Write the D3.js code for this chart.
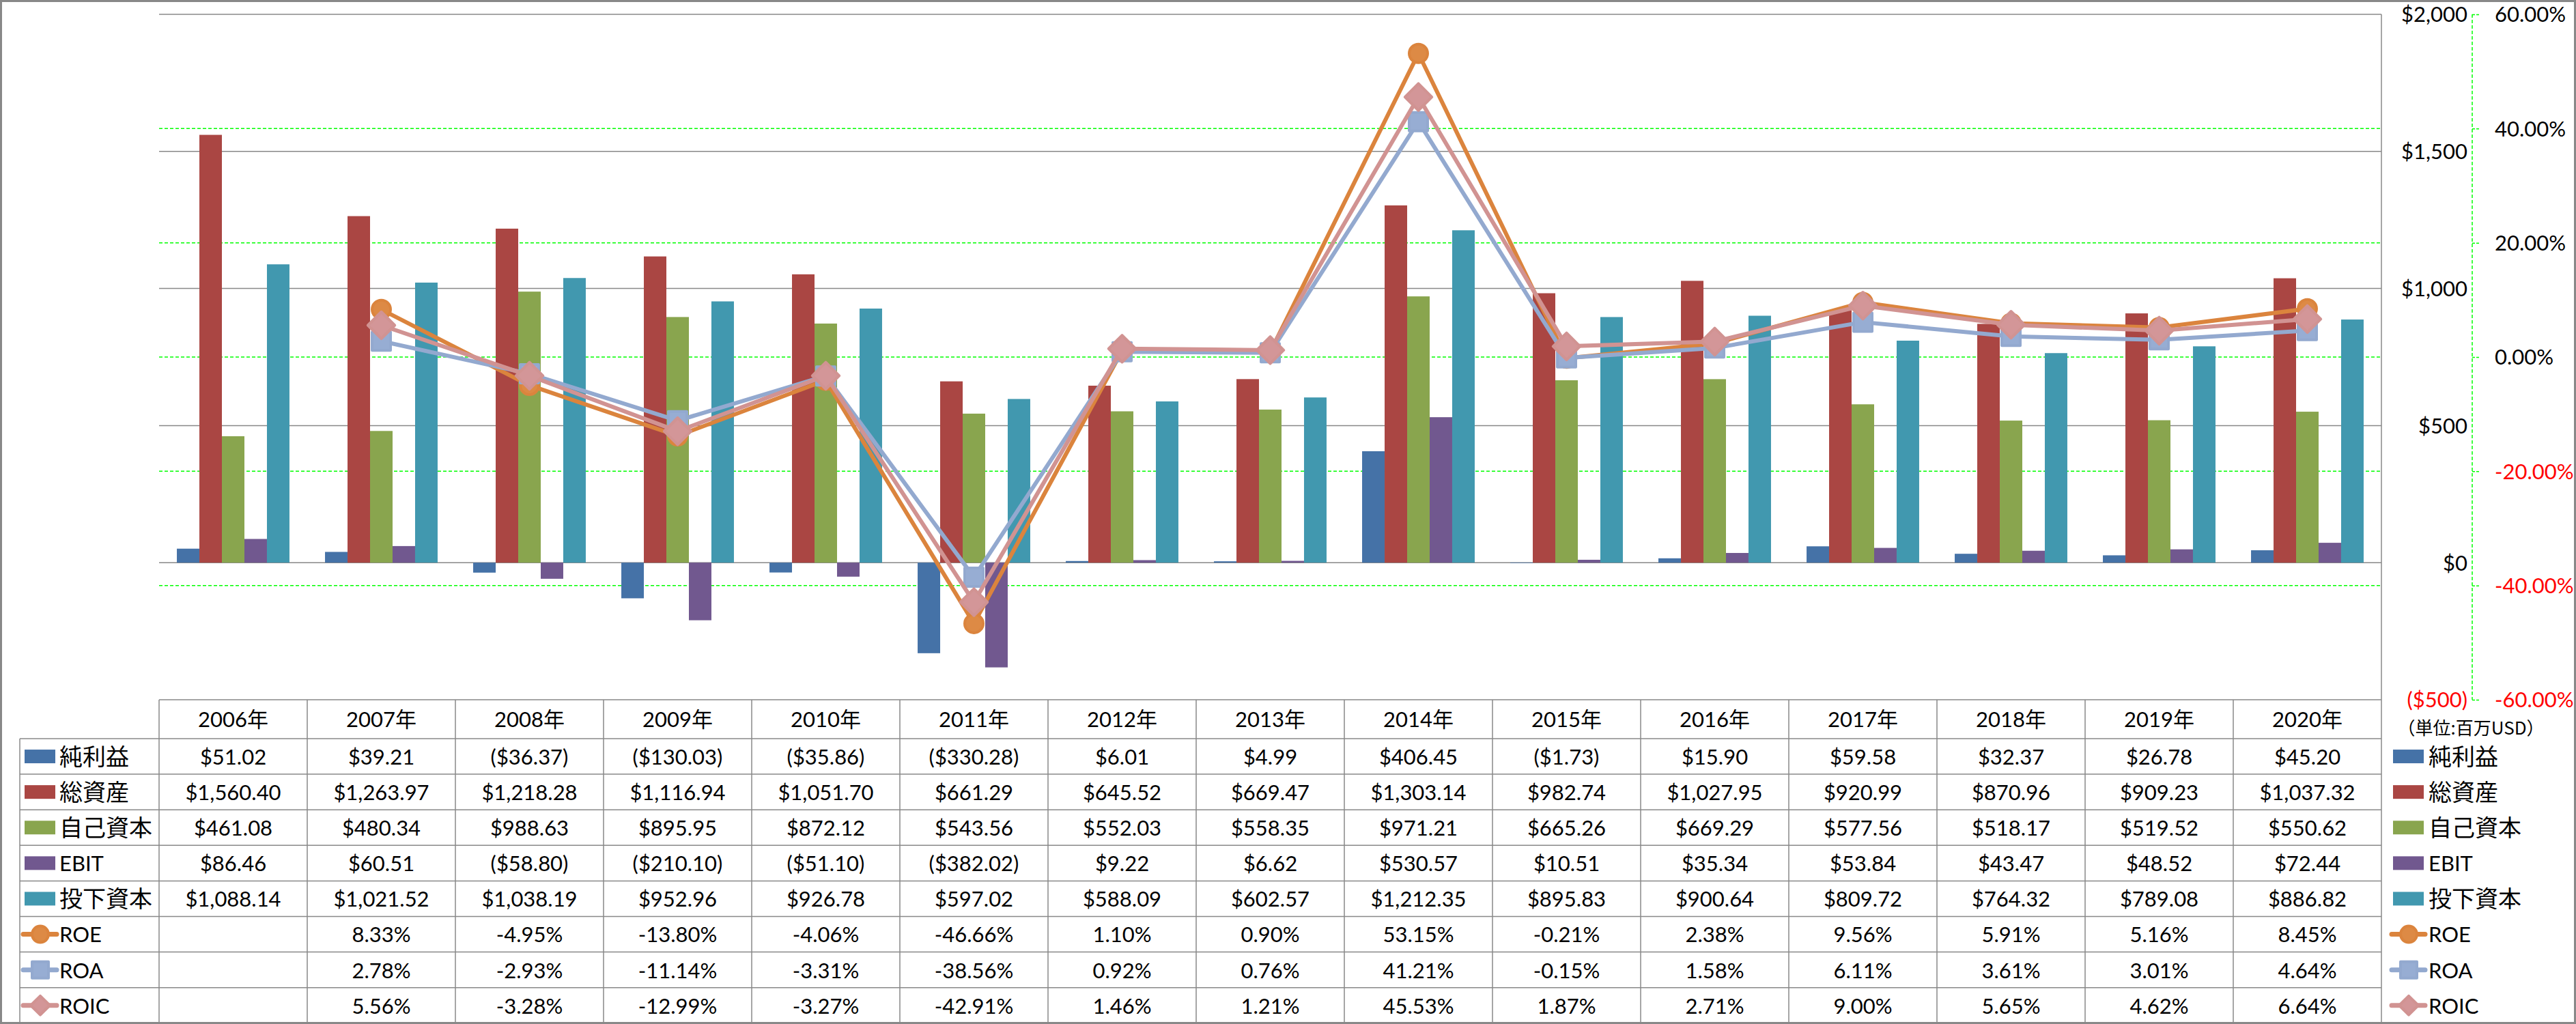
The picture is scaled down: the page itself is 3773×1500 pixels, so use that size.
<!DOCTYPE html>
<html><head><meta charset="utf-8">
<script src="https://cdn.jsdelivr.net/npm/d3@7"></script>
<style>body{margin:0;background:#fff} svg{display:block}</style>
</head><body>
<script>
// ---------- data ----------
const years = ["2006年","2007年","2008年","2009年","2010年","2011年","2012年","2013年","2014年","2015年","2016年","2017年","2018年","2019年","2020年"];
const barSeries = ["純利益","総資産","自己資本","EBIT","投下資本"];
const netIncome = [51.02,39.21,-36.37,-130.03,-35.86,-330.28,6.01,4.99,406.45,-1.73,15.90,59.58,32.37,26.78,45.20];
const totalAssets = [1560.40,1263.97,1218.28,1116.94,1051.70,661.29,645.52,669.47,1303.14,982.74,1027.95,920.99,870.96,909.23,1037.32];
const equity = [461.08,480.34,988.63,895.95,872.12,543.56,552.03,558.35,971.21,665.26,669.29,577.56,518.17,519.52,550.62];
const ebit = [86.46,60.51,-58.80,-210.10,-51.10,-382.02,9.22,6.62,530.57,10.51,35.34,53.84,43.47,48.52,72.44];
const investedCapital = [1088.14,1021.52,1038.19,952.96,926.78,597.02,588.09,602.57,1212.35,895.83,900.64,809.72,764.32,789.08,886.82];
const lineSeries = ["ROE","ROA","ROIC"];
const roe = [null,8.33,-4.95,-13.80,-4.06,-46.66,1.10,0.90,53.15,-0.21,2.38,9.56,5.91,5.16,8.45];
const roa = [null,2.78,-2.93,-11.14,-3.31,-38.56,0.92,0.76,41.21,-0.15,1.58,6.11,3.61,3.01,4.64];
const roic = [null,5.56,-3.28,-12.99,-3.27,-42.91,1.46,1.21,45.53,1.87,2.71,9.00,5.65,4.62,6.64];
const dollarTicks = [-500,0,500,1000,1500,2000];
const pctTicks = [-60,-40,-20,0,20,40,60];
const unitLabel = "（単位:百万USD）";

// ---------- styles ----------
const barColors = ["#4572A7","#AA4643","#89A54E","#71588F","#4198AF"];
const lineColors = ["#DB843D","#93A9CF","#D19392"];
const markerFill = ["#DD8A45","#97ADD3","#D39698"];
const markerTypes = ["circle","square","diamond"];
const FONT = "Lato, 'Noto Sans CJK JP', sans-serif";
const CJK = "'Noto Sans CJK JP', sans-serif";
const GRAY = "#888888";

const W = 3773, H = 1500;
const plotL = 233, plotR = 3488, plotT = 21, plotB = 1025;
const headTop = 1025, headBot = 1082, rowH = 52.1;
const tableLeft = 29;

const svg = d3.select("body").append("svg").attr("width", W).attr("height", H)
  .style("font-family", FONT);

const x0 = d3.scaleBand().domain(years).range([plotL, plotR]).padding(0);
const bw = x0.bandwidth();
const x1 = d3.scaleBand().domain(barSeries).range([bw*0.12, bw*0.88]).padding(0);
const yD = d3.scaleLinear().domain([-500, 2000]).range([plotB, plotT]);
const yP = d3.scaleLinear().domain([-60, 60]).range([plotB, plotT]);

// green dashed gridlines (secondary axis); outermost ones coincide with gray lines
svg.append("g").selectAll("line").data(pctTicks.filter(d => Math.abs(d) < 60)).join("line")
  .attr("x1", plotL).attr("x2", plotR)
  .attr("y1", d => yP(d)).attr("y2", d => yP(d))
  .attr("stroke", "#00FF00").attr("stroke-width", 1.5).attr("stroke-dasharray", "5,3");

// gray gridlines (primary axis)
svg.append("g").selectAll("line").data(dollarTicks.filter(d => d > -500)).join("line")
  .attr("x1", plotL).attr("x2", plotR)
  .attr("y1", d => yD(d)).attr("y2", d => yD(d))
  .attr("stroke", GRAY).attr("stroke-width", 1.5);

// bars
const barData = [netIncome, totalAssets, equity, ebit, investedCapital];
barData.forEach((vals, si) => {
  svg.append("g").selectAll("rect").data(vals).join("rect")
    .attr("x", (d, i) => x0(years[i]) + x1(barSeries[si]))
    .attr("width", x1.bandwidth())
    .attr("y", d => yD(Math.max(0, d)))
    .attr("height", d => Math.abs(yD(d) - yD(0)))
    .attr("fill", barColors[si]);
});

// marker drawing helper
function marker(g, type, cx, cy, size, color, fill, dScale) {
  if (type === "circle") {
    g.append("circle").attr("cx", cx).attr("cy", cy).attr("r", size/2 - 2)
      .attr("fill", fill).attr("stroke", color).attr("stroke-width", 4);
  } else if (type === "square") {
    const s = size - 4;
    g.append("rect").attr("x", cx - s/2).attr("y", cy - s/2).attr("width", s).attr("height", s)
      .attr("fill", fill).attr("stroke", color).attr("stroke-width", 4).attr("stroke-linejoin", "round");
  } else {
    const r = size*dScale - 2;
    g.append("path").attr("d", `M${cx},${cy-r}L${cx+r},${cy}L${cx},${cy+r}L${cx-r},${cy}Z`)
      .attr("fill", fill).attr("stroke", color).attr("stroke-width", 4).attr("stroke-linejoin", "round");
  }
}

// lines
const lineData = [roe, roa, roic];
lineData.forEach((vals, si) => {
  const g = svg.append("g");
  const pts = vals.map((v, i) => [x0(years[i]) + bw/2, v]).filter(p => p[1] !== null);
  const line = d3.line().x(p => p[0]).y(p => yP(p[1]));
  g.append("path").attr("d", line(pts)).attr("fill", "none")
    .attr("stroke", lineColors[si]).attr("stroke-width", 6).attr("stroke-linejoin", "round");
  pts.forEach(p => marker(g, markerTypes[si], p[0], yP(p[1]), 31, lineColors[si], markerFill[si], 0.7));
});

// right plot border (also table right border)
svg.append("line").attr("x1", plotR).attr("x2", plotR).attr("y1", plotT).attr("y2", H)
  .attr("stroke", GRAY).attr("stroke-width", 1.5);

// primary axis labels ($)
const axD = d3.axisRight(yD).tickValues(dollarTicks).tickSize(0)
  .tickFormat(d => d < 0 ? `($${d3.format(",")(-d)})` : `$${d3.format(",")(d)}`);
const gD = svg.append("g").attr("transform", `translate(3614,0)`).call(axD);
gD.select(".domain").remove();
gD.selectAll("text").attr("text-anchor", "end").attr("x", 0).attr("dy", "0.35em")
  .style("font-family", FONT).style("font-size", "31px")
  .attr("fill", d => d < 0 ? "#FF0000" : "#000");

// secondary axis (%)
const axX = 3621;
const axP = d3.axisRight(yP).tickValues(pctTicks).tickSize(11).tickPadding(21)
  .tickFormat(d => d3.format(".2f")(d).replace("−", "-") + "%");
const gP = svg.append("g").attr("transform", `translate(${axX},0)`).call(axP);
gP.select(".domain").attr("stroke", "#00FF00").attr("stroke-width", 1.5).attr("stroke-dasharray", "5,3")
  .attr("d", `M0,${plotT}V${plotB}`);
gP.selectAll(".tick line").attr("stroke", "#00FF00").attr("stroke-width", 1.5).attr("stroke-dasharray", "4,2");
gP.selectAll("text").attr("dy", "0.35em").attr("x", 33)
  .style("font-family", FONT).style("font-size", "31px")
  .attr("fill", d => d < 0 ? "#FF0000" : "#000");

// unit label
svg.append("text").attr("x", 3619).attr("y", 1067).attr("text-anchor", "middle").attr("dy", "0.35em")
  .style("font-family", CJK).style("font-size", "26px").text(unitLabel);

// ---------- data table ----------
const fmtD = v => v < 0 ? `($${d3.format(",.2f")(-v)})` : `$${d3.format(",.2f")(v)}`;
const fmtP = v => v === null ? "" : v.toFixed(2) + "%";
const rows = [
  ...barSeries.map((n, i) => ({name: n, vals: barData[i], fmt: fmtD, kind: "bar", idx: i})),
  ...lineSeries.map((n, i) => ({name: n, vals: lineData[i], fmt: fmtP, kind: "line", idx: i}))
];
const tg = svg.append("g");
const rowTop = r => headBot + r*rowH;
const tableBot = rowTop(rows.length);

// horizontal lines
tg.append("line").attr("x1", plotL).attr("x2", plotR).attr("y1", headTop).attr("y2", headTop);
d3.range(rows.length + 1).forEach(r => {
  tg.append("line").attr("x1", tableLeft).attr("x2", plotR).attr("y1", rowTop(r)).attr("y2", rowTop(r));
});
// vertical lines
tg.append("line").attr("x1", tableLeft).attr("x2", tableLeft).attr("y1", headBot).attr("y2", tableBot);
years.forEach(y => {
  tg.append("line").attr("x1", x0(y)).attr("x2", x0(y)).attr("y1", headTop).attr("y2", tableBot);
});
tg.selectAll("line").attr("stroke", GRAY).attr("stroke-width", 1.5);

// headers
tg.selectAll("text.yr").data(years).join("text").attr("class", "yr")
  .attr("x", d => x0(d) + bw/2).attr("y", (headTop + headBot)/2 + 1).attr("dy", "0.35em")
  .attr("text-anchor", "middle").style("font-size", "31px").text(d => d);

// cells
rows.forEach((row, r) => {
  const cy = rowTop(r) + rowH/2;
  tg.append("g").selectAll("text").data(row.vals).join("text")
    .attr("x", (d, i) => x0(years[i]) + bw/2).attr("y", cy + 1).attr("dy", "0.35em")
    .attr("text-anchor", "middle").style("font-size", "31px").text(d => d === null ? "" : row.fmt(d));
});

// legend keys (left in table and right legend)
function legendEntry(kx, tx, row, cy) {
  if (row.kind === "bar") {
    svg.append("rect").attr("x", kx).attr("y", cy - 10).attr("width", 45).attr("height", 20)
      .attr("fill", barColors[row.idx]);
  } else {
    svg.append("line").attr("x1", kx - 2).attr("x2", kx + 47).attr("y1", cy).attr("y2", cy)
      .attr("stroke", lineColors[row.idx]).attr("stroke-width", 7).attr("stroke-linecap", "round");
    marker(svg.append("g"), markerTypes[row.idx], kx + 23, cy, 28, lineColors[row.idx], markerFill[row.idx], 0.57);
  }
  const isCJK = /[^\x00-\x7F]/.test(row.name);
  svg.append("text").attr("x", tx).attr("y", cy + 1).attr("dy", "0.35em")
    .style("font-family", isCJK ? CJK : FONT).style("font-size", isCJK ? "34px" : "31px")
    .text(row.name);
}
rows.forEach((row, r) => {
  const cy = rowTop(r) + rowH/2;
  legendEntry(36, 87, row, cy);
  legendEntry(3505, 3557, row, cy);
});

// outer border
svg.append("rect").attr("x", 1.5).attr("y", 1.5).attr("width", W - 3).attr("height", H - 3)
  .attr("fill", "none").attr("stroke", GRAY).attr("stroke-width", 3);
</script>
</body></html>
